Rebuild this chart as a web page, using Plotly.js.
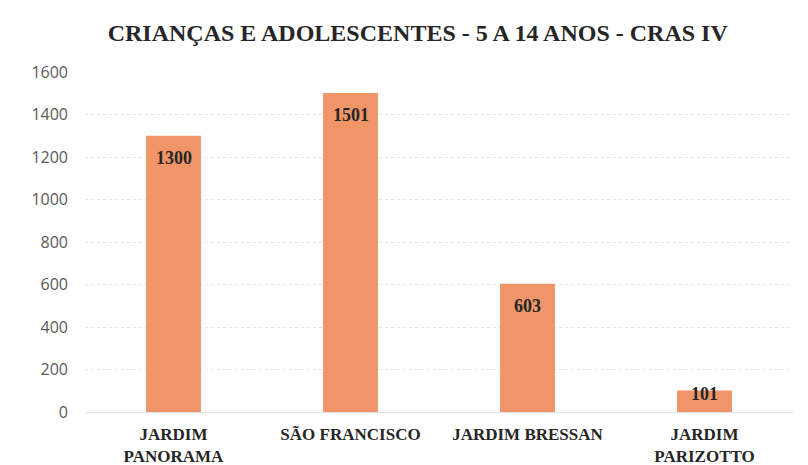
<!DOCTYPE html>
<html>
<head>
<meta charset="utf-8">
<script src="https://cdn.plot.ly/plotly-3.0.1.min.js"></script>
<style>html,body{margin:0;padding:0;background:#fff;}#chart{width:808px;height:465px;}</style>
</head>
<body>
<div id="chart"></div>
<script>
const categories = ["JARDIM<br>PANORAMA", "SÃO FRANCISCO", "JARDIM BRESSAN", "JARDIM<br>PARIZOTTO"];
const values = [1300, 1501, 603, 101];
const yTicks = [0, 200, 400, 600, 800, 1000, 1200, 1400, 1600];

const serif = '"Liberation Serif", "Times New Roman", serif';

const trace = {
  type: 'bar',
  x: categories,
  y: values,
  marker: {color: '#EF9568'},
  hoverinfo: 'none'
};

const annotations = categories.map((c, i) => ({
  x: c, y: values[i], xref: 'x', yref: 'y',
  text: '<b>' + values[i] + '</b>',
  showarrow: false,
  yanchor: 'middle',
  yshift: values[i] > 200 ? -22 : -3,
  font: {family: serif, size: 18, color: '#262626'}
}));

const layout = {
  width: 808, height: 465,
  margin: {l: 85, r: 15, t: 72, b: 53},
  paper_bgcolor: '#ffffff', plot_bgcolor: '#ffffff',
  title: {
    text: '<b>CRIANÇAS E ADOLESCENTES - 5 A 14 ANOS - CRAS IV</b>',
    font: {family: serif, size: 24, color: '#262626'},
    x: 0.517, xanchor: 'center', y: 0.93, yanchor: 'middle'
  },
  bargap: 0.69,
  showlegend: false,
  annotations: annotations,
  xaxis: {
    tickfont: {family: serif, size: 17, color: '#262626', weight: 'bold'},
    showgrid: false, zeroline: false, showline: false, ticks: '',
    ticklabelstandoff: 10
  },
  yaxis: {
    range: [0, 1600],
    tickvals: yTicks,
    ticktext: yTicks.map(String),
    tickfont: {family: '"Open Sans", "Liberation Sans", sans-serif', size: 16, color: '#595959'},
    showgrid: true, gridcolor: '#e6e2ec', gridwidth: 1, griddash: 'dot',
    zeroline: true, zerolinecolor: '#e0dce6', zerolinewidth: 1,
    showline: false, ticks: '', ticklen: 0, ticklabelstandoff: 16
  }
};

Plotly.newPlot('chart', [trace], layout, {displayModeBar: false, staticPlot: true});
</script>
</body>
</html>
